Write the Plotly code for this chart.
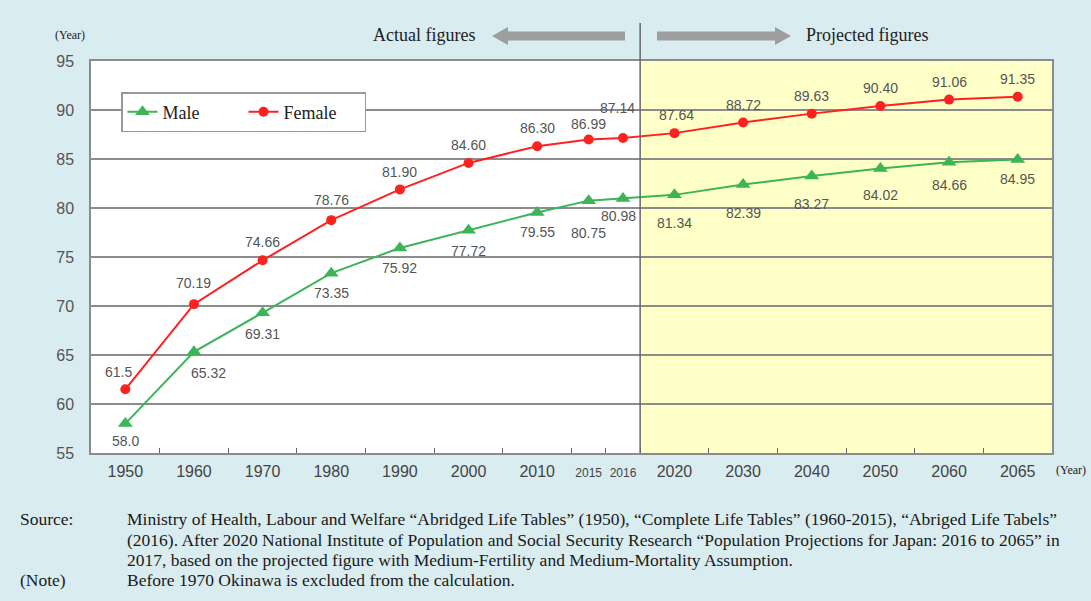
import plotly.graph_objects as go

# ---------------- data ----------------
years = ["1950", "1960", "1970", "1980", "1990", "2000", "2010", "2015", "2016",
         "2020", "2030", "2040", "2050", "2060", "2065"]
female = [61.5, 70.19, 74.66, 78.76, 81.90, 84.60, 86.30, 86.99, 87.14,
          87.64, 88.72, 89.63, 90.40, 91.06, 91.35]
male = [58.0, 65.32, 69.31, 73.35, 75.92, 77.72, 79.55, 80.75, 80.98,
        81.34, 82.39, 83.27, 84.02, 84.66, 84.95]
female_text = ["61.5", "70.19", "74.66", "78.76", "81.90", "84.60", "86.30", "86.99", "87.14",
               "87.64", "88.72", "89.63", "90.40", "91.06", "91.35"]
male_text = ["58.0", "65.32", "69.31", "73.35", "75.92", "77.72", "79.55", "80.75", "80.98",
             "81.34", "82.39", "83.27", "84.02", "84.66", "84.95"]
projection_start = "2020"

# ---------------- layout helpers ----------------
slot_w = [0.5 if y in ("2015", "2016") else 1.0 for y in years]
centers, bounds, acc = [], [], 0.0
for w in slot_w:
    centers.append(acc + w / 2)
    acc += w
    bounds.append(acc)
x_end = acc
proj_x = bounds[years.index(projection_start) - 1]

W, H = 1091, 601
ML, MR, MT, MB = 91, 39, 61, 148
PW, PH = W - ML - MR, H - MT - MB


def px(x):
    return (x - ML) / PW


def py(y):
    return (H - MB - y) / PH


ticktext = [f"<span style='font-size:12px'>{y}</span>" if y in ("2015", "2016") else y for y in years]

# label offsets (px): female above, male below
f_off = [(-7, 17), (0, 21), (0, 18), (0, 20), (0, 17), (0, 18), (0, 18), (0, 16), (-5, 30),
         (2, 18), (0, 18), (0, 18), (0, 18), (0, 18), (0, 18)]
m_off = [(0, -17), (15, -21), (0, -21), (0, -20), (0, -20), (0, -21), (0, -20), (0, -32), (-4, -18),
         (0, -28), (0, -28), (0, -28), (0, -26), (0, -23), (0, -20)]

RED = "#FF2020"
GREEN = "#3DB458"
NUMFONT = dict(family="Liberation Sans, Arial", size=14, color="#555555")
SERIF = "Liberation Serif, Times New Roman"

fig = go.Figure()
fig.add_trace(go.Scatter(x=centers, y=male, mode="lines+markers", name="Male",
                         line=dict(color=GREEN, width=2),
                         marker=dict(symbol="triangle-up", size=13, color=GREEN)))
fig.add_trace(go.Scatter(x=centers, y=female, mode="lines+markers", name="Female",
                         line=dict(color=RED, width=2),
                         marker=dict(symbol="circle", size=10, color=RED)))

ann = []
for xc, v, t, (dx, dy) in zip(centers, female, female_text, f_off):
    ann.append(dict(x=xc, y=v, text=t, showarrow=False, xshift=dx, yshift=dy, font=NUMFONT,
                    xanchor="center", yanchor="middle"))
for xc, v, t, (dx, dy) in zip(centers, male, male_text, m_off):
    ann.append(dict(x=xc, y=v, text=t, showarrow=False, xshift=dx, yshift=dy, font=NUMFONT,
                    xanchor="center", yanchor="middle"))

txtfont = dict(family=SERIF, size=18, color="#222222")
smallfont = dict(family=SERIF, size=12, color="#222222")
for xx, yy, t, f in [(424, 35, "Actual figures", txtfont),
                     (867, 35, "Projected figures", txtfont),
                     (70, 35, "(Year)", smallfont),
                     (1071, 470, "(Year)", smallfont)]:
    ann.append(dict(xref="paper", yref="paper", x=px(xx), y=py(yy), text=t, showarrow=False,
                    xanchor="center", yanchor="middle", font=f))

src_font = dict(family=SERIF, size=17.5, color="#1a1a1a")
src_lines = [
    ("Source:", "Ministry of Health, Labour and Welfare “Abridged Life Tables” (1950), “Complete Life Tables” (1960-2015), “Abriged Life Tabels”"),
    ("", "(2016). After 2020 National Institute of Population and Social Security Research “Population Projections for Japan: 2016 to 2065” in"),
    ("", "2017, based on the projected figure with Medium-Fertility and Medium-Mortality Assumption."),
    ("(Note)", "Before 1970 Okinawa is excluded from the calculation."),
]
for (lab, txt), yy in zip(src_lines, [519, 539.5, 560, 580]):
    if lab:
        ann.append(dict(xref="paper", yref="paper", x=px(18), y=py(yy), text=lab, showarrow=False,
                        xanchor="left", yanchor="middle", font=src_font))
    ann.append(dict(xref="paper", yref="paper", x=px(125), y=py(yy), text=txt, showarrow=False,
                    xanchor="left", yanchor="middle", font=src_font))


def path(points):
    return "M" + " L".join(f"{px(a):.5f},{py(b):.5f}" for a, b in points) + " Z"


left_arrow = [(492, 36), (508, 27), (508, 31.5), (625, 31.5), (625, 40.5), (508, 40.5), (508, 45)]
right_arrow = [(657, 31.5), (775, 31.5), (775, 27), (791, 36), (775, 45), (775, 40.5), (657, 40.5)]

shapes = [
    dict(type="rect", xref="x", yref="y", x0=proj_x, x1=x_end, y0=55, y1=95,
         fillcolor="#FFFFC8", line=dict(width=0), layer="below"),
    dict(type="line", xref="x", yref="paper", x0=proj_x, x1=proj_x, y0=0, y1=py(23),
         line=dict(color="#666666", width=1.5)),
    dict(type="path", xref="paper", yref="paper", path=path(left_arrow),
         fillcolor="#9E9E9E", line=dict(width=0)),
    dict(type="path", xref="paper", yref="paper", path=path(right_arrow),
         fillcolor="#9E9E9E", line=dict(width=0)),
]

fig.update_layout(
    width=W, height=H,
    margin=dict(l=ML, r=MR, t=MT, b=MB),
    paper_bgcolor="#D9ECF0",
    plot_bgcolor="#FFFFFF",
    showlegend=True,
    legend=dict(orientation="h", x=px(121), y=py(92), xanchor="left", yanchor="top",
                bgcolor="#FFFFFF", bordercolor="#999999", borderwidth=1.5,
                font=dict(family=SERIF, size=18, color="#222222"),
                entrywidth=76, entrywidthmode="pixels"),
    annotations=ann,
    shapes=shapes,
    xaxis=dict(range=[0, x_end], tickmode="array", tickvals=centers, ticktext=ticktext,
               ticks="", showgrid=False, zeroline=False,
               showline=True, mirror=True, linecolor="#8C8C8C", linewidth=1.5,
               tickfont=dict(family="Liberation Sans, Arial", size=16, color="#444444"),
               ticklabelstandoff=3,
               minor=dict(tickmode="array", tickvals=bounds[:-1], ticks="inside", ticklen=5,
                          tickcolor="#666666", tickwidth=1.2, showgrid=False)),
    yaxis=dict(range=[55, 95], dtick=5, tick0=55, showgrid=True, gridcolor="#8C8C8C", gridwidth=1.5,
               zeroline=False, ticks="", showline=True, mirror=True, linecolor="#8C8C8C", linewidth=1.5,
               tickfont=dict(family="Liberation Sans, Arial", size=16, color="#555555"),
               ticklabelstandoff=12),
)

fig.write_html("out.html", config={"displayModeBar": False},
               post_script="document.body.style.margin='0px';document.body.style.background='#D9ECF0';")
